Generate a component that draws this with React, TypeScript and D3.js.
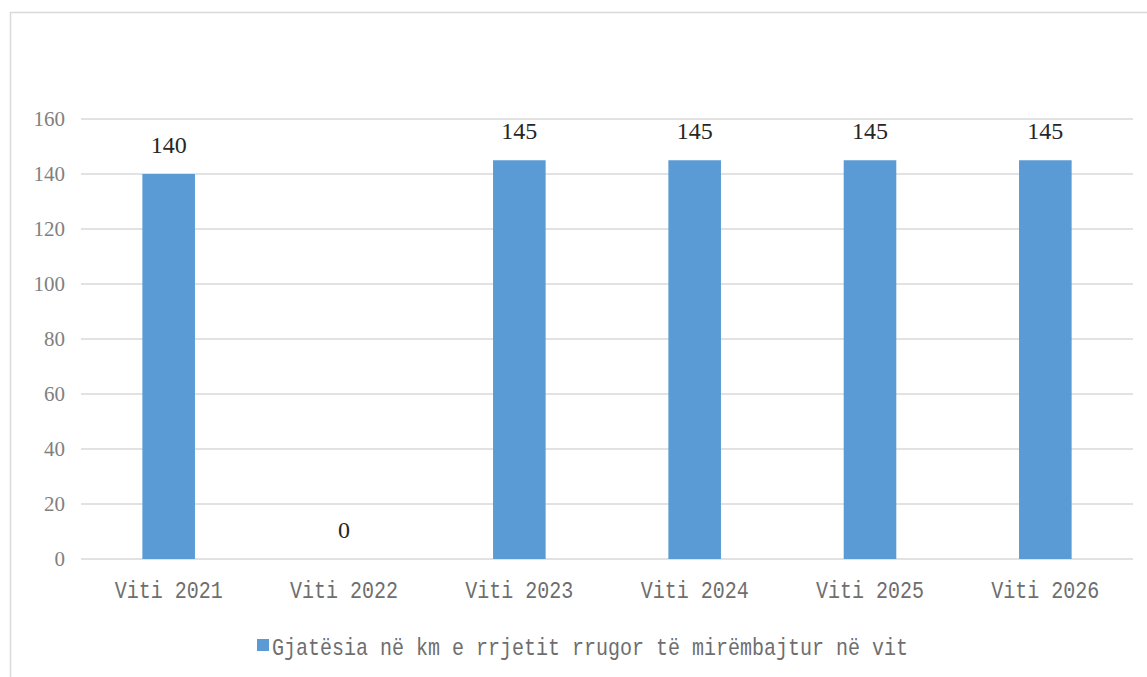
import React, { useEffect, useRef } from 'react';
import * as d3 from 'd3';

const categories = ['Viti 2021', 'Viti 2022', 'Viti 2023', 'Viti 2024', 'Viti 2025', 'Viti 2026'];
const values = [140, 0, 145, 145, 145, 145];
const yTicks = [0, 20, 40, 60, 80, 100, 120, 140, 160];
const seriesName = 'Gjatësia në km e rrjetit rrugor të mirëmbajtur në vit';

const App: React.FC = () => {
  const svgRef = useRef<SVGSVGElement>(null);

  useEffect(() => {
    if (!svgRef.current) return;
    const width = 1147;
    const height = 677;
    const svg = d3.select(svgRef.current);
    svg.selectAll('*').remove();

    const left = 81;
    const right = 1133;
    const top = 119;
    const bottom = 559;

    // outer frame
    svg.append('rect')
      .attr('x', 10.5).attr('y', 12.5)
      .attr('width', width + 20).attr('height', height + 20)
      .attr('fill', 'white')
      .attr('stroke', '#d9d9d9')
      .attr('stroke-width', 1.5);

    const x = d3.scaleBand().domain(categories).range([left, right]).paddingInner(0.7).paddingOuter(0.35);
    const y = d3.scaleLinear().domain([0, 160]).range([bottom, top]);

    // gridlines
    svg.append('g').selectAll('line')
      .data(yTicks)
      .join('line')
      .attr('x1', left).attr('x2', right)
      .attr('y1', d => y(d)).attr('y2', d => y(d))
      .attr('stroke', '#d9d9d9')
      .attr('stroke-width', 1.5);

    // y tick labels
    svg.append('g').selectAll('text')
      .data(yTicks)
      .join('text')
      .attr('x', 65)
      .attr('y', d => y(d))
      .attr('dy', '0.35em')
      .attr('text-anchor', 'end')
      .attr('font-family', '"Liberation Serif", serif')
      .attr('font-size', 21)
      .attr('fill', '#808080')
      .text(d => d);

    // bars
    svg.append('g').selectAll('rect')
      .data(values)
      .join('rect')
      .attr('x', (_, i) => x(categories[i])!)
      .attr('y', d => y(d))
      .attr('width', x.bandwidth())
      .attr('height', d => y(0) - y(d))
      .attr('fill', '#5b9bd5');

    // data labels
    svg.append('g').selectAll('text')
      .data(values)
      .join('text')
      .attr('x', (_, i) => x(categories[i])! + x.bandwidth() / 2)
      .attr('y', d => y(d) - 21)
      .attr('text-anchor', 'middle')
      .attr('font-family', '"Liberation Serif", serif')
      .attr('font-size', 24)
      .attr('fill', '#262626')
      .text(d => d);

    // category labels
    svg.append('g').selectAll('text')
      .data(categories)
      .join('text')
      .attr('x', d => x(d)! + x.bandwidth() / 2)
      .attr('y', 598)
      .attr('text-anchor', 'middle')
      .attr('font-family', '"Liberation Mono", monospace')
      .attr('font-size', 24)
      .attr('textLength', d => d.length * 12)
      .attr('lengthAdjust', 'spacingAndGlyphs')
      .attr('fill', '#6e6e6e')
      .text(d => d);

    // legend
    const lg = svg.append('g');
    lg.append('rect')
      .attr('x', 257).attr('y', 639)
      .attr('width', 12).attr('height', 12)
      .attr('fill', '#5b9bd5');
    lg.append('text')
      .attr('x', 272)
      .attr('y', 655)
      .attr('font-family', '"Liberation Mono", monospace')
      .attr('font-size', 24)
      .attr('textLength', seriesName.length * 12)
      .attr('lengthAdjust', 'spacingAndGlyphs')
      .attr('fill', '#6e6e6e')
      .text(seriesName);
  }, []);

  return (
    <div style={{ position: 'absolute', left: 0, top: 0, width: 1147, height: 677, background: 'white' }}>
      <svg ref={svgRef} width={1147} height={677} style={{ display: 'block' }} />
    </div>
  );
};

export default App;
